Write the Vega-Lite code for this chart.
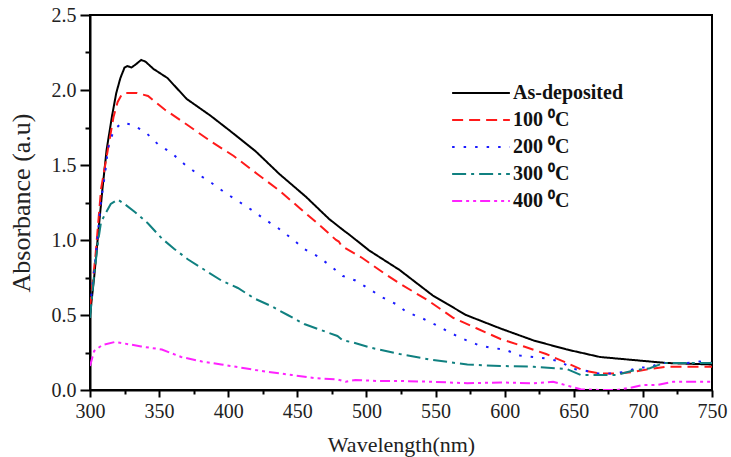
{
  "$schema": "https://vega.github.io/schema/vega-lite/v6.json",
  "autosize": {"type": "none"},
  "width": 622,
  "height": 375,
  "padding": {"left": 90, "top": 15, "right": 19, "bottom": 67},
  "background": "white",
  "config": {
    "view": {"stroke": "black", "strokeWidth": 2},
    "font": "Liberation Serif"
  },
  "datasets": {
    "curves": [
      {"s":"As-deposited","w":300,"a":0.5},{"s":"As-deposited","w":303,"a":0.75},{"s":"As-deposited","w":306,"a":1.05},{"s":"As-deposited","w":309,"a":1.34},{"s":"As-deposited","w":312,"a":1.6},{"s":"As-deposited","w":316,"a":1.83},{"s":"As-deposited","w":319,"a":1.98},{"s":"As-deposited","w":322,"a":2.08},{"s":"As-deposited","w":325,"a":2.15},{"s":"As-deposited","w":327,"a":2.16},{"s":"As-deposited","w":330,"a":2.15},{"s":"As-deposited","w":333,"a":2.17},{"s":"As-deposited","w":337,"a":2.2},{"s":"As-deposited","w":340,"a":2.19},{"s":"As-deposited","w":346,"a":2.14},{"s":"As-deposited","w":356,"a":2.08},{"s":"As-deposited","w":370,"a":1.94},{"s":"As-deposited","w":387,"a":1.83},{"s":"As-deposited","w":401,"a":1.73},{"s":"As-deposited","w":420,"a":1.59},{"s":"As-deposited","w":437,"a":1.44},{"s":"As-deposited","w":456,"a":1.29},{"s":"As-deposited","w":473,"a":1.14},{"s":"As-deposited","w":484,"a":1.06},{"s":"As-deposited","w":487,"a":1.04},{"s":"As-deposited","w":502,"a":0.93},{"s":"As-deposited","w":524,"a":0.8},{"s":"As-deposited","w":548,"a":0.63},{"s":"As-deposited","w":572,"a":0.5},{"s":"As-deposited","w":597,"a":0.41},{"s":"As-deposited","w":621,"a":0.33},{"s":"As-deposited","w":645,"a":0.27},{"s":"As-deposited","w":669,"a":0.22},{"s":"As-deposited","w":693,"a":0.2},{"s":"As-deposited","w":717,"a":0.18},{"s":"As-deposited","w":750,"a":0.17},
      {"s":"100 ⁰C","w":300,"a":0.55},{"s":"100 ⁰C","w":304,"a":0.9},{"s":"100 ⁰C","w":308,"a":1.34},{"s":"100 ⁰C","w":311,"a":1.5},{"s":"100 ⁰C","w":314,"a":1.66},{"s":"100 ⁰C","w":317,"a":1.82},{"s":"100 ⁰C","w":320,"a":1.92},{"s":"100 ⁰C","w":323,"a":1.97},{"s":"100 ⁰C","w":326,"a":1.98},{"s":"100 ⁰C","w":334,"a":1.98},{"s":"100 ⁰C","w":342,"a":1.96},{"s":"100 ⁰C","w":354,"a":1.87},{"s":"100 ⁰C","w":370,"a":1.77},{"s":"100 ⁰C","w":387,"a":1.66},{"s":"100 ⁰C","w":404,"a":1.56},{"s":"100 ⁰C","w":421,"a":1.44},{"s":"100 ⁰C","w":437,"a":1.33},{"s":"100 ⁰C","w":452,"a":1.21},{"s":"100 ⁰C","w":466,"a":1.1},{"s":"100 ⁰C","w":478,"a":1.0},{"s":"100 ⁰C","w":480,"a":0.99},{"s":"100 ⁰C","w":482,"a":0.96},{"s":"100 ⁰C","w":497,"a":0.88},{"s":"100 ⁰C","w":514,"a":0.77},{"s":"100 ⁰C","w":524,"a":0.71},{"s":"100 ⁰C","w":544,"a":0.6},{"s":"100 ⁰C","w":563,"a":0.48},{"s":"100 ⁰C","w":580,"a":0.41},{"s":"100 ⁰C","w":597,"a":0.34},{"s":"100 ⁰C","w":614,"a":0.29},{"s":"100 ⁰C","w":630,"a":0.24},{"s":"100 ⁰C","w":645,"a":0.18},{"s":"100 ⁰C","w":657,"a":0.13},{"s":"100 ⁰C","w":669,"a":0.11},{"s":"100 ⁰C","w":681,"a":0.11},{"s":"100 ⁰C","w":693,"a":0.12},{"s":"100 ⁰C","w":705,"a":0.14},{"s":"100 ⁰C","w":717,"a":0.155},{"s":"100 ⁰C","w":750,"a":0.155},
      {"s":"200 ⁰C","w":300,"a":0.55},{"s":"200 ⁰C","w":304,"a":0.88},{"s":"200 ⁰C","w":308,"a":1.26},{"s":"200 ⁰C","w":311,"a":1.45},{"s":"200 ⁰C","w":313,"a":1.61},{"s":"200 ⁰C","w":316,"a":1.7},{"s":"200 ⁰C","w":318,"a":1.74},{"s":"200 ⁰C","w":323,"a":1.78},{"s":"200 ⁰C","w":330,"a":1.77},{"s":"200 ⁰C","w":340,"a":1.72},{"s":"200 ⁰C","w":349,"a":1.64},{"s":"200 ⁰C","w":359,"a":1.58},{"s":"200 ⁰C","w":369,"a":1.5},{"s":"200 ⁰C","w":378,"a":1.44},{"s":"200 ⁰C","w":388,"a":1.38},{"s":"200 ⁰C","w":397,"a":1.32},{"s":"200 ⁰C","w":407,"a":1.26},{"s":"200 ⁰C","w":417,"a":1.2},{"s":"200 ⁰C","w":426,"a":1.14},{"s":"200 ⁰C","w":436,"a":1.08},{"s":"200 ⁰C","w":446,"a":1.01},{"s":"200 ⁰C","w":455,"a":0.94},{"s":"200 ⁰C","w":465,"a":0.89},{"s":"200 ⁰C","w":475,"a":0.82},{"s":"200 ⁰C","w":483,"a":0.76},{"s":"200 ⁰C","w":492,"a":0.73},{"s":"200 ⁰C","w":501,"a":0.68},{"s":"200 ⁰C","w":511,"a":0.62},{"s":"200 ⁰C","w":522,"a":0.57},{"s":"200 ⁰C","w":529,"a":0.52},{"s":"200 ⁰C","w":540,"a":0.48},{"s":"200 ⁰C","w":551,"a":0.43},{"s":"200 ⁰C","w":561,"a":0.38},{"s":"200 ⁰C","w":570,"a":0.34},{"s":"200 ⁰C","w":581,"a":0.3},{"s":"200 ⁰C","w":591,"a":0.28},{"s":"200 ⁰C","w":600,"a":0.27},{"s":"200 ⁰C","w":611,"a":0.23},{"s":"200 ⁰C","w":621,"a":0.22},{"s":"200 ⁰C","w":630,"a":0.21},{"s":"200 ⁰C","w":640,"a":0.19},{"s":"200 ⁰C","w":650,"a":0.14},{"s":"200 ⁰C","w":658,"a":0.13},{"s":"200 ⁰C","w":668,"a":0.11},{"s":"200 ⁰C","w":678,"a":0.11},{"s":"200 ⁰C","w":687,"a":0.12},{"s":"200 ⁰C","w":697,"a":0.15},{"s":"200 ⁰C","w":705,"a":0.15},{"s":"200 ⁰C","w":712,"a":0.18},{"s":"200 ⁰C","w":722,"a":0.18},{"s":"200 ⁰C","w":732,"a":0.18},{"s":"200 ⁰C","w":741,"a":0.19},{"s":"200 ⁰C","w":750,"a":0.18},
      {"s":"300 ⁰C","w":300,"a":0.48},{"s":"300 ⁰C","w":303,"a":0.77},{"s":"300 ⁰C","w":306,"a":1.0},{"s":"300 ⁰C","w":308,"a":1.12},{"s":"300 ⁰C","w":312,"a":1.19},{"s":"300 ⁰C","w":315,"a":1.24},{"s":"300 ⁰C","w":320,"a":1.27},{"s":"300 ⁰C","w":325,"a":1.24},{"s":"300 ⁰C","w":332,"a":1.19},{"s":"300 ⁰C","w":342,"a":1.11},{"s":"300 ⁰C","w":352,"a":1.01},{"s":"300 ⁰C","w":361,"a":0.94},{"s":"300 ⁰C","w":371,"a":0.87},{"s":"300 ⁰C","w":383,"a":0.8},{"s":"300 ⁰C","w":395,"a":0.73},{"s":"300 ⁰C","w":407,"a":0.68},{"s":"300 ⁰C","w":419,"a":0.61},{"s":"300 ⁰C","w":431,"a":0.56},{"s":"300 ⁰C","w":443,"a":0.5},{"s":"300 ⁰C","w":455,"a":0.44},{"s":"300 ⁰C","w":467,"a":0.4},{"s":"300 ⁰C","w":479,"a":0.36},{"s":"300 ⁰C","w":483,"a":0.33},{"s":"300 ⁰C","w":489,"a":0.32},{"s":"300 ⁰C","w":504,"a":0.28},{"s":"300 ⁰C","w":524,"a":0.24},{"s":"300 ⁰C","w":548,"a":0.2},{"s":"300 ⁰C","w":573,"a":0.17},{"s":"300 ⁰C","w":597,"a":0.16},{"s":"300 ⁰C","w":621,"a":0.155},{"s":"300 ⁰C","w":645,"a":0.14},{"s":"300 ⁰C","w":655,"a":0.1},{"s":"300 ⁰C","w":669,"a":0.1},{"s":"300 ⁰C","w":681,"a":0.1},{"s":"300 ⁰C","w":693,"a":0.13},{"s":"300 ⁰C","w":705,"a":0.145},{"s":"300 ⁰C","w":715,"a":0.18},{"s":"300 ⁰C","w":729,"a":0.18},{"s":"300 ⁰C","w":750,"a":0.18},
      {"s":"400 ⁰C","w":300,"a":0.16},{"s":"400 ⁰C","w":303,"a":0.26},{"s":"400 ⁰C","w":309,"a":0.3},{"s":"400 ⁰C","w":318,"a":0.32},{"s":"400 ⁰C","w":325,"a":0.31},{"s":"400 ⁰C","w":337,"a":0.29},{"s":"400 ⁰C","w":352,"a":0.27},{"s":"400 ⁰C","w":366,"a":0.22},{"s":"400 ⁰C","w":381,"a":0.19},{"s":"400 ⁰C","w":395,"a":0.17},{"s":"400 ⁰C","w":412,"a":0.145},{"s":"400 ⁰C","w":429,"a":0.12},{"s":"400 ⁰C","w":446,"a":0.1},{"s":"400 ⁰C","w":462,"a":0.08},{"s":"400 ⁰C","w":479,"a":0.07},{"s":"400 ⁰C","w":485,"a":0.055},{"s":"400 ⁰C","w":492,"a":0.067},{"s":"400 ⁰C","w":508,"a":0.06},{"s":"400 ⁰C","w":524,"a":0.06},{"s":"400 ⁰C","w":548,"a":0.055},{"s":"400 ⁰C","w":573,"a":0.045},{"s":"400 ⁰C","w":597,"a":0.05},{"s":"400 ⁰C","w":621,"a":0.045},{"s":"400 ⁰C","w":635,"a":0.055},{"s":"400 ⁰C","w":645,"a":0.03},{"s":"400 ⁰C","w":655,"a":0.005},{"s":"400 ⁰C","w":669,"a":0.0},{"s":"400 ⁰C","w":681,"a":0.0},{"s":"400 ⁰C","w":691,"a":0.015},{"s":"400 ⁰C","w":700,"a":0.033},{"s":"400 ⁰C","w":710,"a":0.033},{"s":"400 ⁰C","w":722,"a":0.055},{"s":"400 ⁰C","w":737,"a":0.055},{"s":"400 ⁰C","w":750,"a":0.055}
    ]
  },
  "data": {"name": "curves"},
  "mark": {"type": "line", "strokeWidth": 2, "interpolate": "linear", "clip": true},
  "encoding": {
    "x": {
      "field": "w", "type": "quantitative",
      "scale": {"domain": [300, 750], "nice": false, "zero": false},
      "axis": {
        "title": "Wavelength(nm)",
        "values": [300,325,350,375,400,425,450,475,500,525,550,575,600,625,650,675,700,725,750],
        "labelExpr": "datum.value % 50 === 0 ? datum.label : ''",
        "tickSize": {"condition": {"test": "datum.value % 50 === 0", "value": 7}, "value": 4},
        "grid": false,
        "domainColor": "black", "domainWidth": 2,
        "tickColor": "black", "tickWidth": 2,
        "labelFont": "Liberation Serif", "labelFontSize": 20, "labelColor": "#222",
        "labelPadding": 4, "labelFlush": false,
        "titleFont": "Liberation Serif", "titleFontSize": 22, "titleFontWeight": "normal", "titleColor": "#222",
        "titlePadding": 13
      }
    },
    "y": {
      "field": "a", "type": "quantitative",
      "scale": {"domain": [0, 2.5], "nice": false},
      "axis": {
        "title": "Absorbance (a.u)",
        "values": [0,0.25,0.5,0.75,1,1.25,1.5,1.75,2,2.25,2.5],
        "labelExpr": "(datum.value * 4) % 2 === 0 ? format(datum.value, '.1f') : ''",
        "tickSize": {"condition": {"test": "(datum.value * 4) % 2 === 0", "value": 10}, "value": 5},
        "grid": false,
        "domainColor": "black", "domainWidth": 2,
        "tickColor": "black", "tickWidth": 2,
        "labelFont": "Liberation Serif", "labelFontSize": 20, "labelColor": "#222",
        "labelPadding": 4, "labelFlush": false,
        "titleFont": "Liberation Serif", "titleFontSize": 26, "titleFontWeight": "normal", "titleColor": "#222",
        "titlePadding": 17
      }
    },
    "color": {
      "field": "s", "type": "nominal",
      "scale": {"domain": ["As-deposited","100 ⁰C","200 ⁰C","300 ⁰C","400 ⁰C"], "range": ["#000000","#ff1a1a","#1a1aff","#108080","#ff22ff"]},
      "legend": {
        "title": null,
        "orient": "none",
        "legendX": 379,
        "legendY": 66,
        "symbolType": "M-2.75,0H2.75",
        "symbolSize": 441,
        "symbolStrokeWidth": 2.2,
        "symbolFillColor": "transparent",
        "labelFont": "Liberation Serif",
        "labelFontSize": 20,
        "labelFontWeight": "bold",
        "labelColor": "#111",
        "labelOffset": 20,
        "rowPadding": 5,
        "labelLimit": 300
      }
    },
    "strokeDash": {
      "field": "s", "type": "nominal",
      "scale": {"domain": ["As-deposited","100 ⁰C","200 ⁰C","300 ⁰C","400 ⁰C"], "range": [[1,0],[11,6],[2.5,9],[14,5,3,5],[10,4,3,4,3,4]]},
      "legend": null
    }
  }
}
